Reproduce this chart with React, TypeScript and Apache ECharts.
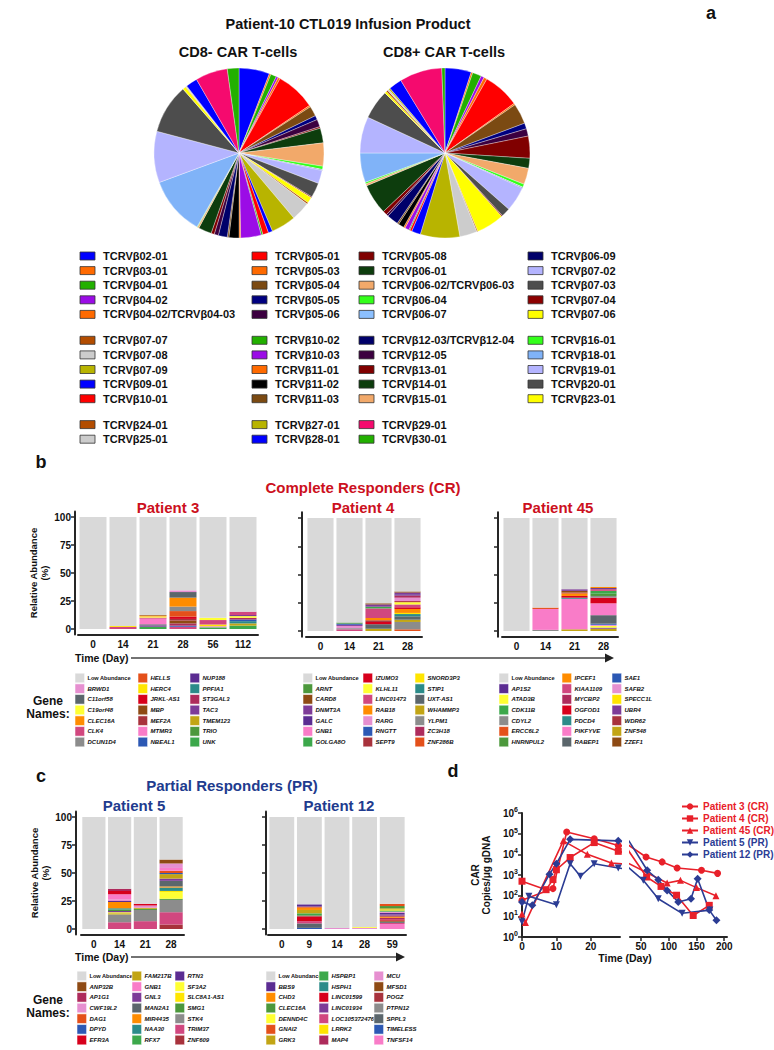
import React, { useEffect, useRef } from "react";
import * as echarts from "echarts";

const FONT = "'Liberation Sans', Arial, Helvetica, sans-serif";
const LOW = "#d9d9d9";

// ---------------- Panel a: TCR V-beta usage (estimated shares, %) ----------------
const tcrNames = ["02-01","03-01","04-01","04-02","04-02/TCRVβ04-03","05-01","05-03","05-04","05-05","05-06","05-08","06-01","06-02/TCRVβ06-03","06-04","06-07","06-09","07-02","07-03","07-04","07-06","07-07","07-08","07-09","09-01","10-01","10-02","10-03","11-01","11-02","11-03","12-03/TCRVβ12-04","12-05","13-01","14-01","15-01","16-01","18-01","19-01","20-01","23-01","24-01","25-01","27-01","28-01","29-01","30-01"];
const cd8NegShare = [5.8,0.3,1.1,0.4,0.4,7.5,0.3,1.9,0.8,1.4,0.3,2.8,4.4,0.6,0.1,0.1,2.5,2.8,0.2,1.1,0.3,3.6,4.7,0.8,1.1,0.3,3.9,0.3,1.9,0.3,1.7,0.8,0.6,2.5,0.3,0.1,11.1,9.7,9.4,0.6,0.1,0.1,0.1,2.2,6.1,2.2];
const cd8PosShare = [5.0,0.3,1.7,0.6,0.6,6.9,0.3,3.9,1.1,1.4,4.2,1.9,3.1,0.6,0.1,0.1,4.7,1.7,0.2,5.3,0.2,3.3,7.5,1.7,0.4,0.2,0.8,0.3,1.1,0.3,2.2,0.4,0.8,5.8,0.4,0.3,5.6,6.9,5.6,0.4,0.3,0.3,0.3,2.5,8.1,0.6];
const tcrColors = ["#0000ff","#ff6a00","#22b000","#9b0ce6","#ff6a00","#ff0000","#ff6a00","#7b4a12","#000080","#3c0040","#800000","#0d3d0d","#f2a96a","#33ff1a","#8cc0ff","#00006a","#b4b4ff","#4d4d4d","#8c0000","#ffff00","#b34d00","#cccccc","#b8b400","#0000ff","#ff0000","#22b000","#9b0ce6","#ff6a00","#000000","#7b4a12","#00006a","#3c0040","#800000","#0d3d0d","#f2a96a","#33ff1a","#80b3f8","#b4b4ff","#4d4d4d","#ffff00","#b34d00","#cccccc","#b8b400","#0000ff","#f50a6e","#22b000"];

// ---------------- Panels b, c: clone relative abundance ----------------
const p3Days = ["0","14","21","28","56","112"];
const p3Genes = ["Low Abundance","BRWD1","C11orf58","C19orf48","CLEC16A","CLK4","DCUN1D4","HELLS","HERC4","JRKL-AS1","MBP","MEF2A","MTMR3","NBEAL1","NUP188","PPFIA1","ST3GAL3","TAC3","TMEM123","TRIO","UNK"];
const p3GeneColors = [LOW,"#e68fd0","#5b666c","#ffff33","#ff8c00","#d1477f","#8c8c8c","#e4501a","#ffe500","#d7001c","#8e4a14","#a8323c","#f97cc8","#2c58b4","#5b2c92","#2b8b89","#ae2b5c","#7d3b98","#c2a515","#4c983c","#3ca84b"];
const p3Clones: [string, number][][] = [
  [],
  [["CLK4",1.8],["HERC4",0.8]],
  [["UNK",2],["TAC3",1.2],["C11orf58",1],["MTMR3",5],["CLK4",1],["C19orf48",1],["CLEC16A",0.8],["MBP",0.5]],
  [["CLK4",2],["NBEAL1",1],["ST3GAL3",2],["MBP",2.5],["MEF2A",1.5],["JRKL-AS1",2],["HELLS",5],["DCUN1D4",4],["CLEC16A",8],["C11orf58",5],["BRWD1",1.5]],
  [["UNK",1.5],["BRWD1",1],["HERC4",1.5],["CLK4",4],["C19orf48",2]],
  [["UNK",3],["TMEM123",2],["PPFIA1",2],["NBEAL1",1.5],["ST3GAL3",1.5],["C19orf48",1.5],["TAC3",1],["CLK4",3]],
];

const p4Days = ["0","14","21","28"];
const p4Genes = ["Low Abundance","ARNT","CARD8","DNMT3A","GALC","GNB1","GOLGA8O","IZUMO3","KLHL11","LINC01473","RAB18","RARG","RNGTT","SEPT9","SNORD3P3","STIP1","UXT-AS1","WHAMMP3","YLPM1","ZC3H18","ZNF286B"];
const p4GeneColors = [LOW,"#4c983c","#8e4a14","#7d3b98","#5b2c92","#f97cc8","#3ca84b","#d7001c","#ffff33","#d1477f","#ff8c00","#e68fd0","#2c58b4","#a8323c","#ffe500","#2b8b89","#5b666c","#c2a515","#8c8c8c","#ae2b5c","#e4501a"];
const p4Clones: [string, number][][] = [
  [],
  [["LINC01473",1.5],["YLPM1",1],["RARG",2],["DNMT3A",1],["RNGTT",1],["ARNT",1]],
  [["WHAMMP3",2],["UXT-AS1",4],["IZUMO3",2],["SEPT9",1.5],["RAB18",2],["LINC01473",8.5],["GOLGA8O",1.5],["DNMT3A",2],["CARD8",1]],
  [["ZNF286B",1.5],["YLPM1",6.5],["WHAMMP3",2],["UXT-AS1",3],["STIP1",2],["SNORD3P3",1],["RAB18",3.5],["IZUMO3",1.5],["LINC01473",2.5],["KLHL11",2],["SEPT9",1],["RARG",3],["ZC3H18",2],["GALC",1],["DNMT3A",1.5],["CARD8",1]],
];

const p45Days = ["0","14","21","28"];
const p45Genes = ["Low Abundance","AP1S2","ATAD3B","CDK11B","CDYL2","ERCC6L2","HNRNPUL2","IPCEF1","KIAA1109","MYCBP2","OGFOD1","PDCD4","PIKFYVE","RABEP1","SAE1","SAFB2","SPECC1L","UBR4","WDR62","ZNF548","ZZEF1"];
const p45GeneColors = [LOW,"#5b2c92","#ffff33","#3ca84b","#8c8c8c","#e4501a","#4c983c","#ff8c00","#d1477f","#ae2b5c","#d7001c","#2b8b89","#f97cc8","#5b666c","#2c58b4","#e68fd0","#ffe500","#7d3b98","#a8323c","#c2a515","#8e4a14"];
const p45Clones: [string, number][][] = [
  [],
  [["CDYL2",1],["PIKFYVE",18.5],["ERCC6L2",1.2]],
  [["ZNF548",1.5],["PIKFYVE",27],["PDCD4",1],["OGFOD1",1.5],["IPCEF1",2],["ERCC6L2",1],["ZZEF1",1.5],["UBR4",1.5]],
  [["ZNF548",2],["UBR4",1],["ATAD3B",1.5],["SAFB2",1],["SAE1",1],["RABEP1",7.5],["PIKFYVE",10.5],["OGFOD1",5],["CDYL2",1.5],["HNRNPUL2",2],["CDK11B",2.5],["KIAA1109",1.5],["AP1S2",1],["IPCEF1",1]],
];

const p5Days = ["0","14","21","28"];
const p5Genes = ["Low Abundance","ANP32B","AP1G1","CWF19L2","DAG1","DPYD","EFR3A","FAM217B","GNB1","GNL3","MAN2A1","MIR4435","NAA30","RFX7","RTN3","SF3A2","SLC8A1-AS1","SMG1","STK4","TRIM37","ZNF609"];
const p5GeneColors = [LOW,"#8e4a14","#ae2b5c","#e68fd0","#e4501a","#2c58b4","#d7001c","#c2a515","#f97cc8","#7d3b98","#5b666c","#ff8c00","#2b8b89","#3ca84b","#5b2c92","#ffff33","#ffe500","#4c983c","#8c8c8c","#d1477f","#a8323c"];
const p5Clones: [string, number][][] = [
  [],
  [["TRIM37",6],["STK4",7],["FAM217B",1],["SF3A2",1],["GNL3",1],["SMG1",1.5],["NAA30",1],["MIR4435",5.5],["RTN3",1],["CWF19L2",1.5],["GNB1",4.5],["EFR3A",3],["AP1G1",2]],
  [["TRIM37",7],["STK4",10],["SMG1",1],["FAM217B",1],["CWF19L2",2],["EFR3A",1.5]],
  [["ZNF609",4],["TRIM37",11],["STK4",11],["SMG1",1],["SF3A2",6],["SLC8A1-AS1",1],["NAA30",3],["MIR4435",1],["MAN2A1",5],["GNL3",2],["FAM217B",4],["DPYD",1],["DAG1",2],["GNB1",2.5],["CWF19L2",4],["ANP32B",3.5]],
];

const p12Days = ["0","9","14","28","59"];
const p12Genes = ["Low Abundance","BBS9","CHD3","CLEC16A","DENND4C","GNAI2","GRK3","HSPBP1","HSPH1","LINC01599","LINC01934","LOC105372476","LRRK2","MAP4","MCU","MFSD1","POGZ","PTPN12","SPPL3","TIMELESS","TNFSF14"];
const p12GeneColors = [LOW,"#5b2c92","#ff8c00","#4c983c","#ffff33","#e4501a","#c2a515","#3ca84b","#2b8b89","#d7001c","#7d3b98","#d1477f","#ffe500","#ae2b5c","#e68fd0","#8e4a14","#a8323c","#8c8c8c","#5b666c","#2c58b4","#f97cc8"];
const p12Clones: [string, number][][] = [
  [],
  [["TIMELESS",1],["SPPL3",4],["LOC105372476",2],["LINC01599",4],["POGZ",1],["HSPBP1",2],["GRK3",3],["CHD3",2],["GNAI2",1],["BBS9",2]],
  [["MCU",1]],
  [["MCU",1],["DENND4C",0.7]],
  [["TNFSF14",4.5],["LOC105372476",1],["SPPL3",1],["MFSD1",1],["LINC01599",1],["MAP4",1.5],["CHD3",1],["POGZ",1],["LINC01934",1],["BBS9",1.5],["MCU",1],["HSPBP1",1],["LRRK2",1],["GRK3",1],["CLEC16A",2],["GNAI2",2]],
];

// ---------------- Panel d: CAR copies / ug gDNA ----------------
const carPatients = ["Patient 3 (CR)","Patient 4 (CR)","Patient 45 (CR)","Patient 5 (PR)","Patient 12 (PR)"];
const p3CarDays = [0,9,13,21,28,59,88,115,159,188];
const p3CarCopies = [60,220,120000,57000,27000,7400,4300,2200,1700,1200];
const p4CarDays = [0,7,9,10,14,21,28,60,86,114,144,173];
const p4CarCopies = [500,195,600,1800,7000,37000,14000,800,280,105,11,34];
const p45CarDays = [0,1,12,19,26,97,121,150,185];
const p45CarCopies = [13,5,45000,10000,3800,410,550,245,100];
const p5CarDays = [0,2,10,14,17,21,28,54,81,124,174];
const p5CarCopies = [5.4,93,36,3500,870,3500,2200,550,71,14,20];
const p12CarDays = [0,3,8,10,14,28,61,81,97,117,140,152,173,186];
const p12CarCopies = [49,34,1100,3500,53000,45000,1700,590,180,49,71,660,20,6.5];

const RED = "#e8202a";
const BLUE = "#2b3c94";
const TITLE_RED = "#cc1020";
const NAVY = "#213b8e";
const AX = "#262626";

function buildOption() {
  const series: any[] = [];
  const grids: any[] = [];
  const xAxes: any[] = [];
  const yAxes: any[] = [];
  const els: any[] = [];

  const txt = (x: number, y: number, text: string, size: number, opts: any = {}) =>
    els.push({
      type: "text", x, y, silent: true,
      style: { text, fontSize: size, fontWeight: "bold", fontFamily: FONT, fill: opts.fill || "#111",
        align: opts.align || "center", verticalAlign: "middle", fontStyle: opts.italic ? "italic" : "normal" },
    });

  // ---- pies
  const pieData = (vals: number[]) =>
    tcrNames.map((n, i) => ({ name: "TCRVβ" + n, value: vals[i], itemStyle: { color: tcrColors[i] } }));
  [[cd8NegShare, 239], [cd8PosShare, 445]].forEach(([vals, cx]: any, k) => {
    series.push({
      type: "pie", name: k === 0 ? "CD8-" : "CD8+", center: [cx, 153], radius: 85, startAngle: 90,
      label: { show: false }, labelLine: { show: false }, silent: true,
      itemStyle: { borderColor: "rgba(255,255,255,0.55)", borderWidth: 0.6 },
      data: pieData(vals),
    });
  });
  txt(711, 13, "a", 18);
  txt(348, 24, "Patient-10 CTL019 Infusion Product", 14.5);
  txt(238, 52, "CD8- CAR T-cells", 14.5);
  txt(444, 52, "CD8+ CAR T-cells", 14.5);

  const legCols = [80, 252, 359, 528];
  tcrNames.forEach((n, i) => {
    const block = Math.floor(i / 20);
    const j = i % 20;
    const rows = block < 2 ? 5 : 2;
    const col = Math.floor(j / rows);
    const row = j % rows;
    const x = legCols[col];
    const y = 256 + block * 84.3 + row * 14.6;
    els.push({ type: "rect", silent: true, shape: { x, y: y - 4, width: 15, height: 8 }, style: { fill: tcrColors[i], stroke: "#333", lineWidth: 0.8 } });
    txt(x + 23, y, "TCRVβ" + n, 11, { align: "left" });
  });

  // ---- stacked bars
  const addBarChart = (gi: number, id: string, days: string[], clones: [string, number][][], genes: string[], colors: string[],
    left: number, width: number, zeroY: number, perUnit: number, yOffset: number, showLabels: boolean) => {
    const top = zeroY - 105 * perUnit;
    grids.push({ left, top, width, height: 110 * perUnit });
    xAxes.push({
      type: "category", gridIndex: gi, data: days,
      axisLine: { onZero: false, lineStyle: { color: AX, width: 2 } }, axisTick: { show: false },
      axisLabel: { fontSize: 10, fontWeight: "bold", color: "#111", margin: 5, fontFamily: FONT },
    });
    yAxes.push({
      type: "value", gridIndex: gi, min: -5, max: 105, offset: yOffset,
      splitLine: { show: false },
      axisLine: { show: true, lineStyle: { color: AX, width: 2 } },
      axisTick: { show: true, length: 4, customValues: [0, 25, 50, 75, 100], lineStyle: { color: AX, width: 1.5 } },
      axisLabel: { show: showLabels, customValues: [0, 25, 50, 75, 100], fontSize: 10, fontWeight: "bold", color: "#111", margin: 4, fontFamily: FONT },
      name: showLabels ? "Relative Abundance\n(%)" : "", nameLocation: "middle", nameRotate: 90, nameGap: 22,
      nameTextStyle: { fontSize: 9.5, fontWeight: "bold", lineHeight: 11, color: "#111", fontFamily: FONT },
    });
    const maxLen = Math.max(0, ...clones.map((c) => c.length));
    for (let k = 0; k < maxLen; k++) {
      series.push({
        type: "bar", name: id + "-" + k, xAxisIndex: gi, yAxisIndex: gi, stack: id, barCategoryGap: "10%", silent: true,
        data: clones.map((c) => (c[k] ? { value: c[k][1], itemStyle: { color: colors[genes.indexOf(c[k][0])] } } : 0)),
      });
    }
    series.push({
      type: "bar", name: id + "-low", xAxisIndex: gi, yAxisIndex: gi, stack: id, barCategoryGap: "10%", silent: true,
      data: clones.map((c) => ({ value: 100 - c.reduce((s, x) => s + x[1], 0), itemStyle: { color: colors[0] } })),
    });
  };

  addBarChart(0, "p3", p3Days, p3Clones, p3Genes, p3GeneColors, 78, 180, 629, 1.12, 3, true);
  addBarChart(1, "p4", p4Days, p4Clones, p4Genes, p4GeneColors, 306, 116, 631, 1.13, 4, false);
  addBarChart(2, "p45", p45Days, p45Clones, p45Genes, p45GeneColors, 502, 116, 631, 1.13, 4, false);
  addBarChart(3, "p5", p5Days, p5Clones, p5Genes, p5GeneColors, 81, 103, 929, 1.12, 5, true);
  addBarChart(4, "p12", p12Days, p12Clones, p12Genes, p12GeneColors, 268, 138, 929, 1.12, 2, false);

  txt(41, 462, "b", 18);
  txt(363, 487, "Complete Responders (CR)", 15, { fill: TITLE_RED });
  txt(168, 507, "Patient 3", 15, { fill: TITLE_RED });
  txt(363, 507, "Patient 4", 15, { fill: TITLE_RED });
  txt(558, 507, "Patient 45", 15, { fill: TITLE_RED });
  txt(41, 776, "c", 18);
  txt(232, 785, "Partial Responders (PR)", 15, { fill: NAVY });
  txt(134, 805, "Patient 5", 15, { fill: NAVY });
  txt(339, 805, "Patient 12", 15, { fill: NAVY });

  const arrow = (y: number, x1: number, x2: number) => {
    txt(75, y, "Time (Day)", 10.5, { align: "left" });
    els.push({ type: "line", silent: true, shape: { x1, y1: y, x2: x2 - 6, y2: y }, style: { stroke: "#444", lineWidth: 1.6 } });
    els.push({ type: "polygon", silent: true, shape: { points: [[x2 - 9, y - 4.5], [x2, y], [x2 - 9, y + 4.5]] }, style: { fill: "#222" } });
  };
  arrow(658, 131, 614);
  arrow(957, 131, 405);

  const geneLegend = (genes: string[], colors: string[], xs: number[], y0: number) => {
    genes.forEach((g, i) => {
      const col = Math.floor(i / 7);
      const row = i % 7;
      const x = xs[col];
      const y = y0 + row * 10.67;
      els.push({ type: "rect", silent: true, shape: { x, y: y - 4.8, width: 9.6, height: 9.6 }, style: { fill: colors[i], stroke: "rgba(255,255,255,0.9)", lineWidth: 0.6 } });
      txt(x + 12.5, y, g, i === 0 ? 5.6 : 6, { align: "left", italic: i !== 0 });
    });
  };
  geneLegend(p3Genes, p3GeneColors, [75, 138, 190], 678);
  geneLegend(p4Genes, p4GeneColors, [303, 363, 415], 678);
  geneLegend(p45Genes, p45GeneColors, [499, 562, 612], 678);
  geneLegend(p5Genes, p5GeneColors, [77, 132, 175], 976);
  geneLegend(p12Genes, p12GeneColors, [266, 319, 374], 976);
  txt(48, 701, "Gene", 12);
  txt(48, 714, "Names:", 12);
  txt(48, 1000, "Gene", 12);
  txt(48, 1013, "Names:", 12);

  // ---- panel d (broken x axis: two grids)
  grids.push({ left: 522, top: 813, width: 98, height: 124 });
  grids.push({ left: 630, top: 813, width: 97, height: 124 });
  const dTickLabel = { fontSize: 10, fontWeight: "bold", color: "#111", margin: 4, fontFamily: FONT };
  xAxes.push({
    type: "value", gridIndex: 5, min: 0, max: 28.5, splitLine: { show: false },
    axisLine: { onZero: false, lineStyle: { color: AX, width: 2 } },
    axisTick: { length: 4, customValues: [0, 10, 20], lineStyle: { color: AX, width: 1.5 } },
    axisLabel: { ...dTickLabel, customValues: [0, 10, 20] },
  });
  xAxes.push({
    type: "value", gridIndex: 6, min: 30, max: 205, splitLine: { show: false },
    axisLine: { onZero: false, lineStyle: { color: AX, width: 2 } },
    axisTick: { length: 4, customValues: [50, 100, 150, 200], lineStyle: { color: AX, width: 1.5 } },
    axisLabel: { ...dTickLabel, customValues: [50, 100, 150, 200] },
  });
  yAxes.push({
    type: "log", gridIndex: 5, logBase: 10, min: 1, max: 1e6, splitNumber: 6, splitLine: { show: false },
    axisLine: { show: true, lineStyle: { color: AX, width: 2 } },
    axisTick: { length: 4, lineStyle: { color: AX, width: 1.5 } }, minorTick: { show: false },
    axisLabel: {
      margin: 4,
      formatter: (v: number) => "{b|10}{s|" + Math.round(Math.log10(v)) + "}",
      rich: {
        b: { fontSize: 10, fontWeight: "bold", color: "#111", fontFamily: FONT },
        s: { fontSize: 7, fontWeight: "bold", color: "#111", fontFamily: FONT, padding: [0, 0, 7, 0] },
      },
    },
    name: "CAR\nCopies/μg gDNA", nameLocation: "middle", nameRotate: 90, nameGap: 30,
    nameTextStyle: { fontSize: 10, fontWeight: "bold", lineHeight: 11, color: "#111", fontFamily: FONT },
  });
  yAxes.push({ type: "log", gridIndex: 6, logBase: 10, min: 1, max: 1e6, show: false });

  const carDays = [p3CarDays, p4CarDays, p45CarDays, p5CarDays, p12CarDays];
  const carCopies = [p3CarCopies, p4CarCopies, p45CarCopies, p5CarCopies, p12CarCopies];
  const carColors = [RED, RED, RED, BLUE, BLUE];
  const carSymbols = ["circle", "rect", "triangle", "triangle", "diamond"];
  const carRot = [0, 0, 0, 180, 0];
  carPatients.forEach((name, i) => {
    [5, 6].forEach((g) => {
      series.push({
        type: "line", name, xAxisIndex: g, yAxisIndex: g, clip: true, silent: true,
        data: carDays[i].map((d, j) => [d, carCopies[i][j]]),
        symbol: carSymbols[i], symbolRotate: carRot[i], symbolSize: i === 4 ? 8 : 7,
        lineStyle: { color: carColors[i], width: 1.6 }, itemStyle: { color: carColors[i] },
      });
    });
  });
  txt(453, 771, "d", 18);
  txt(625, 958, "Time (Day)", 10.5);

  return {
    animation: false,
    backgroundColor: "#ffffff",
    textStyle: { fontFamily: FONT },
    grid: grids,
    xAxis: xAxes,
    yAxis: yAxes,
    legend: {
      left: 676, top: 796, orient: "vertical", itemWidth: 16, itemHeight: 8, itemGap: 1, selectedMode: false,
      textStyle: { fontSize: 10, fontWeight: "bold", fontFamily: FONT, lineHeight: 11 },
      data: carPatients.map((n, i) => ({ name: n, textStyle: { color: carColors[i] } })),
    },
    series,
    graphic: { elements: els },
  };
}

export default function App() {
  const ref = useRef<HTMLDivElement>(null);
  useEffect(() => {
    if (!ref.current) return;
    const chart = echarts.init(ref.current, undefined, { renderer: "svg" });
    chart.setOption(buildOption() as any);
    return () => chart.dispose();
  }, []);
  return <div ref={ref} style={{ position: "absolute", left: 0, top: 0, width: 774, height: 1050, background: "#fff" }} />;
}
